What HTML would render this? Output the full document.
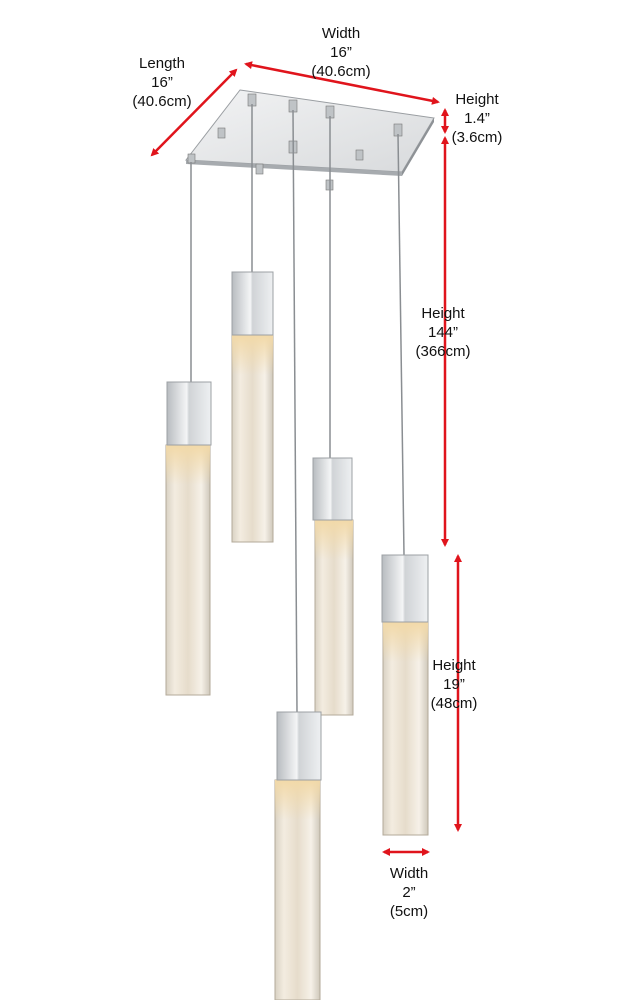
<!DOCTYPE html>
<html><head><meta charset="utf-8"><style>
html,body{margin:0;padding:0;background:#fff;}
svg{display:block;}
text{font-family:"Liberation Sans",sans-serif;font-size:15px;fill:#111;text-anchor:middle;}
</style></head><body>
<svg width="628" height="1000" viewBox="0 0 628 1000" xmlns="http://www.w3.org/2000/svg">
<defs>
<linearGradient id="cap" x1="0" x2="1"><stop offset="0" stop-color="#b8bcc0"/><stop offset="0.45" stop-color="#f4f5f6"/><stop offset="0.5" stop-color="#d0d3d6"/><stop offset="1" stop-color="#eef0f2"/></linearGradient>
<linearGradient id="cry" x1="0" x2="1"><stop offset="0" stop-color="#d9d2c4"/><stop offset="0.2" stop-color="#f3ece0"/><stop offset="0.5" stop-color="#e6dccb"/><stop offset="0.8" stop-color="#f6f1e8"/><stop offset="1" stop-color="#cfc8bb"/></linearGradient>
<linearGradient id="glow" x1="0" y1="0" x2="0" y2="1"><stop offset="0" stop-color="#f2d9a8"/><stop offset="1" stop-color="#f2d9a8" stop-opacity="0"/></linearGradient>
<linearGradient id="plate" x1="0" y1="0" x2="1" y2="1"><stop offset="0" stop-color="#f2f3f4"/><stop offset="1" stop-color="#d8dadc"/></linearGradient>
<marker id="ah" markerWidth="8" markerHeight="8" refX="6" refY="4" orient="auto-start-reverse" markerUnits="userSpaceOnUse"><path d="M0,0 L8,4 L0,8 Z" fill="#e0141c"/></marker>
</defs>

<!-- canopy -->
<polygon points="240,90 434,118 402,172 186,160" fill="url(#plate)" stroke="#9a9ea2" stroke-width="1"/>
<polygon points="186,160 402,172 402,176 186,164" fill="#a7abaf"/>
<polygon points="402,172 434,118 434,122 402,176" fill="#8e9296"/>
<g fill="#bfc3c6" stroke="#777" stroke-width="0.6">
<rect x="248" y="94" width="8" height="12"/><rect x="289" y="100" width="8" height="12"/><rect x="326" y="106" width="8" height="12"/><rect x="394" y="124" width="8" height="12"/>
<rect x="218" y="128" width="7" height="10"/><rect x="188" y="154" width="7" height="9"/><rect x="256" y="164" width="7" height="10"/><rect x="289" y="141" width="8" height="12"/><rect x="326" y="180" width="7" height="10"/><rect x="356" y="150" width="7" height="10"/>
</g>

<!-- cables -->
<g stroke="#8a8e92" stroke-width="1.5">
<line x1="191" y1="162" x2="191" y2="382"/>
<line x1="252" y1="104" x2="252" y2="272"/>
<line x1="330" y1="116" x2="330" y2="458"/>
<line x1="398" y1="134" x2="404" y2="555"/>
<line x1="293" y1="110" x2="297" y2="712"/>
</g>

<!-- pendants -->
<g>
<!-- A -->
<rect x="166" y="445" width="44" height="250" fill="url(#cry)" stroke="#b3aa9a"/>
<rect x="166" y="445" width="44" height="40" fill="url(#glow)"/>
<rect x="167" y="382" width="44" height="63" fill="url(#cap)" stroke="#9ca0a4"/>
<!-- B -->
<rect x="232" y="335" width="41" height="207" fill="url(#cry)" stroke="#b3aa9a"/>
<rect x="232" y="335" width="41" height="40" fill="url(#glow)"/>
<rect x="232" y="272" width="41" height="63" fill="url(#cap)" stroke="#9ca0a4"/>
<!-- C -->
<rect x="315" y="520" width="38" height="195" fill="url(#cry)" stroke="#b3aa9a"/>
<rect x="315" y="520" width="38" height="40" fill="url(#glow)"/>
<rect x="313" y="458" width="39" height="62" fill="url(#cap)" stroke="#9ca0a4"/>
<!-- D -->
<rect x="383" y="622" width="45" height="213" fill="url(#cry)" stroke="#b3aa9a"/>
<rect x="383" y="622" width="45" height="40" fill="url(#glow)"/>
<rect x="382" y="555" width="46" height="67" fill="url(#cap)" stroke="#9ca0a4"/>
<!-- E -->
<rect x="275" y="780" width="45" height="220" fill="url(#cry)" stroke="#b3aa9a"/>
<rect x="275" y="780" width="45" height="40" fill="url(#glow)"/>
<rect x="277" y="712" width="44" height="68" fill="url(#cap)" stroke="#9ca0a4"/>
</g>

<!-- dimension arrows -->
<g stroke="#e0141c" stroke-width="2.5" fill="none">
<line x1="236" y1="70" x2="152" y2="155" marker-start="url(#ah)" marker-end="url(#ah)"/>
<line x1="246" y1="64" x2="438" y2="102" marker-start="url(#ah)" marker-end="url(#ah)"/>
<line x1="445" y1="110" x2="445" y2="132" marker-start="url(#ah)" marker-end="url(#ah)"/>
<line x1="445" y1="138" x2="445" y2="545" marker-start="url(#ah)" marker-end="url(#ah)"/>
<line x1="458" y1="556" x2="458" y2="830" marker-start="url(#ah)" marker-end="url(#ah)"/>
<line x1="384" y1="852" x2="428" y2="852" marker-start="url(#ah)" marker-end="url(#ah)"/>
</g>

<!-- labels -->
<text x="341" y="38">Width</text><text x="341" y="57">16”</text><text x="341" y="76">(40.6cm)</text>
<text x="162" y="68">Length</text><text x="162" y="87">16”</text><text x="162" y="106">(40.6cm)</text>
<text x="477" y="104">Height</text><text x="477" y="123">1.4”</text><text x="477" y="142">(3.6cm)</text>
<text x="443" y="318">Height</text><text x="443" y="337">144”</text><text x="443" y="356">(366cm)</text>
<text x="454" y="670">Height</text><text x="454" y="689">19”</text><text x="454" y="708">(48cm)</text>
<text x="409" y="878">Width</text><text x="409" y="897">2”</text><text x="409" y="916">(5cm)</text>
</svg>
</body></html>
